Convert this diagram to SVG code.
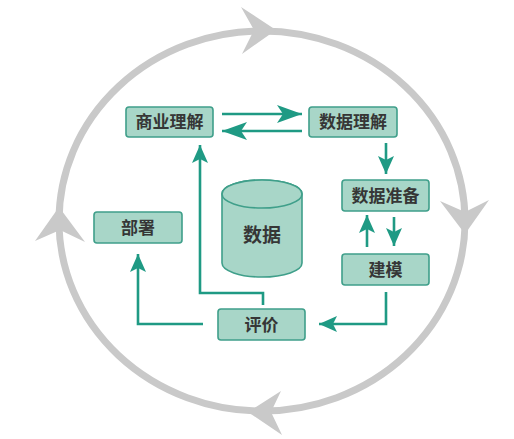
<svg xmlns="http://www.w3.org/2000/svg" width="514" height="439" viewBox="0 0 514 439">
<defs>
<style>
.box{fill:#a8d6c8;stroke:#3f9f8a;stroke-width:1.6}
.lbl{font-family:"Noto Sans CJK SC","Noto Sans",sans-serif;font-size:17px;font-weight:bold;fill:#363636;text-anchor:middle}
.conn{fill:none;stroke:#1f9a84;stroke-width:2.6}
.cyc{fill:#c9c9c9}
</style>
<marker id="ahL" markerUnits="userSpaceOnUse" markerWidth="26" markerHeight="20" viewBox="0 -10 26 20" refX="25" refY="0" orient="auto">
<path d="M0,-9 L25,0 L0,9 L6,0 Z" fill="#1f9a84"/>
</marker>
<marker id="ahS" markerUnits="userSpaceOnUse" markerWidth="20" markerHeight="18" viewBox="0 -9 20 18" refX="18" refY="0" orient="auto">
<path d="M0,-8 L18,0 L0,8 L4,0 Z" fill="#1f9a84"/>
</marker>
</defs>
<rect width="514" height="439" fill="#ffffff"/>
<g id="cycle">
<ellipse cx="262" cy="221" rx="203" ry="190" fill="none" stroke="#c9c9c9" stroke-width="7"/>
<polygon class="cyc" points="276,30 241,7 254,30 242,54"/>
<polygon class="cyc" points="465,234 440,201 465,212 489,200"/>
<polygon class="cyc" points="248,412 281,391 271,412 282,435"/>
<polygon class="cyc" points="59,207 35,241 60,230 85,242"/>
</g>
<g id="connectors">
<path class="conn" d="M222,114 L302,114" marker-end="url(#ahL)"/>
<path class="conn" d="M302,131 L222,131" marker-end="url(#ahL)"/>
<path class="conn" d="M386,143 L386,174" marker-end="url(#ahS)"/>
<path class="conn" d="M367,247 L367,215" marker-end="url(#ahS)"/>
<path class="conn" d="M394,217 L394,246" marker-end="url(#ahS)"/>
<path class="conn" d="M386,292 L386,324 L319,324" marker-end="url(#ahS)"/>
<path class="conn" d="M203,324 L138,324 L138,254" marker-end="url(#ahS)"/>
<path class="conn" d="M263,305 L263,293 L200,293 L200,145" marker-end="url(#ahS)"/>
</g>
<g id="node-business">
<rect class="box" x="126" y="107" width="87" height="30" rx="3"/>
<text class="lbl" x="169.5" y="128">商业理解</text>
</g>
<g id="node-dataunderstanding">
<rect class="box" x="309" y="107" width="88" height="30" rx="3"/>
<text class="lbl" x="353" y="128">数据理解</text>
</g>
<g id="node-dataprep">
<rect class="box" x="342" y="180" width="87" height="31" rx="3"/>
<text class="lbl" x="385.5" y="201.5">数据准备</text>
</g>
<g id="node-modeling">
<rect class="box" x="342" y="254" width="87" height="31" rx="3"/>
<text class="lbl" x="385.5" y="275.5">建模</text>
</g>
<g id="node-evaluation">
<rect class="box" x="218" y="309" width="87" height="31" rx="3"/>
<text class="lbl" x="261.5" y="330.5">评价</text>
</g>
<g id="node-deployment">
<rect class="box" x="94" y="212" width="88" height="31" rx="3"/>
<text class="lbl" x="138" y="233.5">部署</text>
</g>
<g id="node-data">
<path class="box" d="M222,194 L222,263 A40,14 0 0 0 302,263 L302,194 A40,14 0 0 0 222,194 Z"/>
<ellipse class="box" cx="262" cy="194" rx="40" ry="14"/>
<text class="lbl" x="262" y="242" style="font-size:19px">数据</text>
</g>
</svg>
